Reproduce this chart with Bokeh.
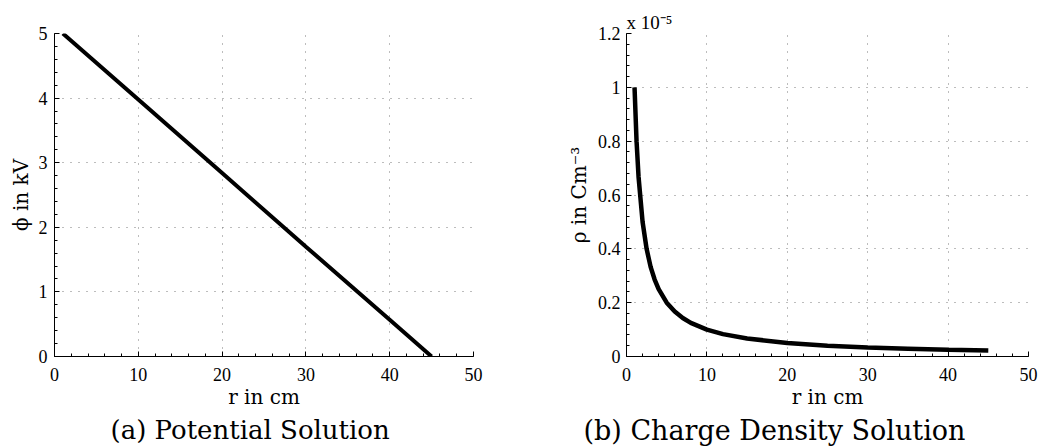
from bokeh.plotting import figure
from bokeh.layouts import row
from bokeh.models import FixedTicker, Title
from bokeh.embed import file_html
from bokeh.resources import INLINE

# ---- data ----
r_phi = [1, 10, 20, 30, 40, 45]
phi_kv = [5.0, 3.98, 2.84, 1.70, 0.57, 0.0]

r_rho = [1, 1.25, 1.5, 2, 2.5, 3, 3.5, 4, 5, 6, 7, 8, 10, 12, 15, 20, 25, 30, 35, 40, 45]
rho_e5 = [1.0, 0.8, 0.667, 0.5, 0.4, 0.333, 0.286, 0.25, 0.2, 0.167, 0.143, 0.125,
          0.1, 0.083, 0.067, 0.05, 0.04, 0.033, 0.029, 0.025, 0.022]

x_ticks = [0, 10, 20, 30, 40, 50]
phi_ticks = [0, 1, 2, 3, 4, 5]
rho_ticks = [0, 0.2, 0.4, 0.6, 0.8, 1.0, 1.2]
rho_tick_labels = ["0", "0.2", "0.4", "0.6", "0.8", "1", "1.2"]

FONT = "Liberation Serif"
FONT_B = "DejaVu Serif"
GRID = "#7a7a7a"


def style(p):
    p.outline_line_color = None
    p.background_fill_color = "white"
    p.border_fill_color = "white"
    for ax in (p.xaxis[0], p.yaxis[0]):
        ax.axis_line_color = "black"
        ax.axis_line_width = 1
        ax.major_tick_in = 5
        ax.major_tick_out = 0
        ax.minor_tick_in = 3
        ax.minor_tick_out = 0
        ax.major_tick_line_color = "black"
        ax.minor_tick_line_color = "black"
        ax.major_label_text_font = FONT
        ax.major_label_text_font_size = "18px"
        ax.major_label_text_color = "black"
        ax.axis_label_text_font = FONT_B
        ax.axis_label_text_font_size = "20px"
        ax.axis_label_text_font_style = "normal"
        ax.axis_label_text_color = "black"
    for g in (p.xgrid[0], p.ygrid[0]):
        g.grid_line_color = GRID
        g.grid_line_dash = "1 7"
        g.grid_line_width = 1
    p.xaxis[0].major_label_standoff = 11
    p.xaxis[0].axis_label_standoff = 1
    p.yaxis[0].major_label_standoff = 7


# ---- left: potential ----
p1 = figure(width=520, height=448, x_range=(0, 50), y_range=(0, 5),
            output_backend="svg", toolbar_location=None,
            min_border_left=54, min_border_right=47, min_border_top=32, min_border_bottom=92)
p1.line(r_phi, phi_kv, line_color="black", line_width=4)
style(p1)
p1.xaxis[0].ticker = FixedTicker(ticks=x_ticks, minor_ticks=list(range(0, 51, 2)))
p1.yaxis[0].ticker = FixedTicker(ticks=phi_ticks, minor_ticks=[i * 0.2 for i in range(26)])
p1.xaxis[0].axis_label = "r in cm"
p1.yaxis[0].axis_label = "ϕ in kV"
p1.yaxis[0].axis_label_standoff = 3
p1.add_layout(Title(text="(a) Potential Solution", text_font=FONT_B, text_font_size="26px",
                    text_font_style="normal", text_color="black",
                    align="left", offset=56, standoff=3), "below")

# ---- right: charge density ----
p2 = figure(width=520, height=448, x_range=(0, 50), y_range=(0, 1.2),
            output_backend="svg", toolbar_location=None,
            min_border_left=106, min_border_right=12, min_border_top=33, min_border_bottom=92)
p2.line(r_rho, rho_e5, line_color="black", line_width=4.5)
style(p2)
p2.xaxis[0].ticker = FixedTicker(ticks=x_ticks, minor_ticks=list(range(0, 51, 2)))
p2.yaxis[0].ticker = FixedTicker(ticks=rho_ticks, minor_ticks=[i * 0.04 for i in range(31)])
p2.yaxis[0].major_label_overrides = {t: s for t, s in zip(rho_ticks, rho_tick_labels)}
p2.xaxis[0].axis_label = "r in cm"
p2.yaxis[0].axis_label = "ρ in Cm⁻³"
p2.yaxis[0].axis_label_standoff = 4
p2.yaxis[0].major_label_standoff = 6
p2.add_layout(Title(text="x 10⁻⁵", text_font="serif", text_font_size="19px",
                    text_font_style="normal", text_color="black",
                    align="left", offset=0, standoff=1), "above")
p2.add_layout(Title(text="(b) Charge Density Solution", text_font=FONT_B, text_font_size="27px",
                    text_font_style="normal", text_color="black",
                    align="left", offset=-43, standoff=3), "below")

layout = row(p1, p2)
open("out.html", "w").write(file_html(layout, INLINE))
